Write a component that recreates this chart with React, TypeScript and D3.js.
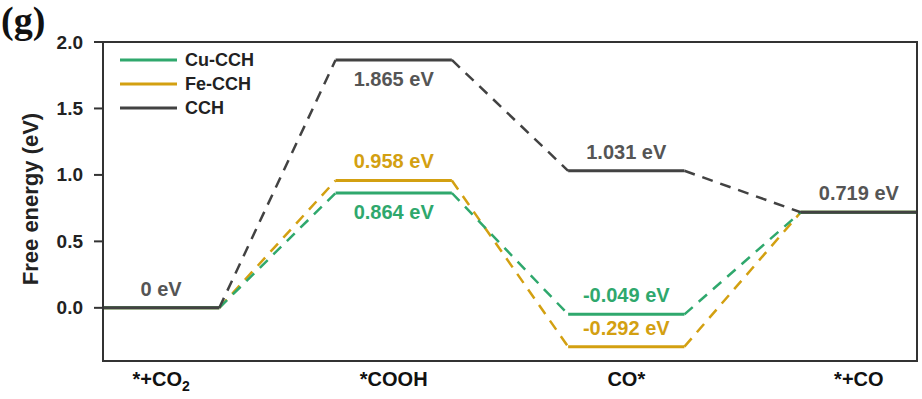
import React from "react";
import * as d3 from "d3";

const steps = ["*+CO2", "*COOH", "CO*", "*+CO"];
const cuValues = [0, 0.864, -0.049, 0.719];
const feValues = [0, 0.958, -0.292, 0.719];
const cchValues = [0, 1.865, 1.031, 0.719];
const cuLabels = [null, "0.864 eV", "-0.049 eV", null];
const feLabels = [null, "0.958 eV", "-0.292 eV", null];
const cchLabels = ["0 eV", "1.865 eV", "1.031 eV", "0.719 eV"];
const yTicks = [0.0, 0.5, 1.0, 1.5, 2.0];
const seriesNames = ["Cu-CCH", "Fe-CCH", "CCH"];

const W = 922;
const H = 399;
const M = { left: 103, right: 917, top: 42, bottom: 361 };
const FONT = "'Liberation Sans', Arial, Helvetica, sans-serif";

const COLORS: Record<string, string> = {
  "Cu-CCH": "#2fa86d",
  "Fe-CCH": "#d3a011",
  CCH: "#424242",
};
const LABEL_COLORS: Record<string, string> = {
  "Cu-CCH": "#2fa86d",
  "Fe-CCH": "#d3a011",
  CCH: "#555555",
};
// label side: -1 above, +1 below
const LABEL_SIDE: Record<string, number[]> = {
  "Cu-CCH": [-1, 1, -1, -1],
  "Fe-CCH": [-1, -1, -1, -1],
  CCH: [-1, 1, -1, -1],
};

export default function App() {
  const x = d3
    .scaleBand<string>()
    .domain(steps)
    .range([M.left, M.right])
    .paddingInner(0.5)
    .paddingOuter(0);
  const y = d3.scaleLinear().domain([-0.4, 2.0]).range([M.bottom, M.top]);
  const bw = x.bandwidth();

  const series = [
    { name: "Fe-CCH", values: feValues, labels: feLabels },
    { name: "Cu-CCH", values: cuValues, labels: cuLabels },
    { name: "CCH", values: cchValues, labels: cchLabels },
  ];

  return (
    <svg
      width={W}
      height={H}
      style={{ position: "absolute", left: 0, top: 0, background: "#fff" }}
      fontFamily={FONT}
    >
      <text x={1} y={33} fontFamily="'Liberation Serif', 'Times New Roman', serif" fontWeight="bold" fontSize={38} fill="#111">
        (g)
      </text>

      {/* series */}
      {series.map((s) => (
        <g key={s.name}>
          {s.values.slice(0, -1).map((v, i) => {
            const x1 = (x(steps[i]) as number) + bw;
            const x2 = x(steps[i + 1]) as number;
            return (
              <line
                key={"d" + i}
                x1={x1}
                y1={y(v)}
                x2={x2}
                y2={y(s.values[i + 1])}
                stroke={COLORS[s.name]}
                strokeWidth={2.5}
                strokeDasharray="11 8"
              />
            );
          })}
          {s.values.map((v, i) => (
            <line
              key={"l" + i}
              x1={x(steps[i]) as number}
              x2={(x(steps[i]) as number) + bw}
              y1={y(v)}
              y2={y(v)}
              stroke={COLORS[s.name]}
              strokeWidth={3}
            />
          ))}
        </g>
      ))}
      {series.map((s) =>
        s.labels.map((lab, i) =>
          lab ? (
            <text
              key={s.name + "t" + i}
              x={(x(steps[i]) as number) + bw / 2}
              y={y(s.values[i]) + LABEL_SIDE[s.name][i] * 19}
              textAnchor="middle"
              dominantBaseline="central"
              fontSize={20}
              fontWeight="bold"
              fill={LABEL_COLORS[s.name]}
            >
              {lab}
            </text>
          ) : null
        )
      )}

      {/* frame */}
      <rect
        x={M.left}
        y={M.top}
        width={M.right - M.left}
        height={M.bottom - M.top}
        fill="none"
        stroke="#333"
        strokeWidth={2}
      />
      {yTicks.map((t) => (
        <g key={t}>
          <line x1={M.left - 9} x2={M.left} y1={y(t)} y2={y(t)} stroke="#333" strokeWidth={2} />
          <text
            x={M.left - 20}
            y={y(t)}
            textAnchor="end"
            dominantBaseline="central"
            fontSize={19}
            fontWeight="bold"
            fill="#222"
          >
            {t.toFixed(1)}
          </text>
        </g>
      ))}
      <text
        transform={`translate(30,199) rotate(-90)`}
        textAnchor="middle"
        dominantBaseline="central"
        fontSize={22}
        fontWeight="bold"
        fill="#222"
      >
        Free energy (eV)
      </text>

      {/* x labels */}
      {steps.map((s) => {
        const cx = (x(s) as number) + bw / 2;
        if (s === "*+CO2") {
          return (
            <text key={s} x={cx} y={386} textAnchor="middle" fontSize={20} fontWeight="bold" fill="#111">
              *+CO<tspan fontSize={14} dy={5}>2</tspan>
            </text>
          );
        }
        return (
          <text key={s} x={cx} y={386} textAnchor="middle" fontSize={20} fontWeight="bold" fill="#111">
            {s}
          </text>
        );
      })}

      {/* legend */}
      {seriesNames.map((n, i) => (
        <g key={n}>
          <line x1={120} x2={177} y1={60 + i * 24} y2={60 + i * 24} stroke={COLORS[n]} strokeWidth={3} />
          <text x={185} y={60 + i * 24} dominantBaseline="central" fontSize={18} fontWeight="bold" fill="#222">
            {n}
          </text>
        </g>
      ))}
    </svg>
  );
}
